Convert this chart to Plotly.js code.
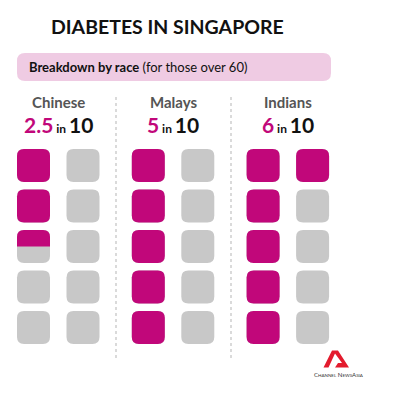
<!DOCTYPE html>
<html><head><meta charset="utf-8">
<script src="https://cdn.plot.ly/plotly-3.0.1.min.js"></script>
<style>html,body{margin:0;padding:0;background:#fff}#chart{width:395px;height:416px}</style>
</head><body><div id="chart"></div>
<script>
// ---- data ----
const races = ['Chinese', 'Malays', 'Indians'];
const ratePer10 = [2.5, 5, 6];
const rateLabels = ['2.5', '5', '6'];
const outOf = 10;
const chartTitle = 'DIABETES IN SINGAPORE';
const subtitleBold = 'Breakdown by race';
const subtitleRest = '(for those over 60)';

// ---- style / layout constants ----
const MAG = '#c1077a', GREY = '#c8c8c8', PINK = '#efcbe3';
const FONT = 'Lato, "Open Sans", sans-serif';
const gx0 = 17, gStep = 114.8, cStep = 49.5, gy0 = 149, rStep = 40.5, sz = 33, rad = 7;
const rowsPerCol = 5;

function roundPath(x0, y0, x1, y1, r, roundBottom) {
  let p = `M${x0},${y0 + r} Q${x0},${y0} ${x0 + r},${y0} L${x1 - r},${y0} Q${x1},${y0} ${x1},${y0 + r} `;
  if (roundBottom) {
    p += `L${x1},${y1 - r} Q${x1},${y1} ${x1 - r},${y1} L${x0 + r},${y1} Q${x0},${y1} ${x0},${y1 - r} Z`;
  } else {
    p += `L${x1},${y1} L${x0},${y1} Z`;
  }
  return p;
}

const shapes = [];
const annotations = [];
const cx = [], cy = [];

// banner
shapes.push({type: 'path', xref: 'x', yref: 'y', path: roundPath(17, 53, 331, 81, 8, true),
  fillcolor: PINK, line: {width: 0}, layer: 'below'});

races.forEach((race, g) => {
  const gx = gx0 + g * gStep;
  for (let k = 0; k < outOf; k++) {
    const col = Math.floor(k / rowsPerCol), row = k % rowsPerCol;
    const x0 = gx + col * cStep, y0 = gy0 + row * rStep;
    const x1 = x0 + sz, y1 = y0 + sz;
    cx.push(x0 + sz / 2); cy.push(y0 + sz / 2);
    const frac = Math.max(0, Math.min(1, ratePer10[g] - k));
    shapes.push({type: 'path', xref: 'x', yref: 'y', path: roundPath(x0, y0, x1, y1, rad, true),
      fillcolor: GREY, line: {width: 0}});
    if (frac > 0) {
      const yf = y0 + frac * sz;
      shapes.push({type: 'path', xref: 'x', yref: 'y',
        path: roundPath(x0, y0, x1, yf, rad, frac >= 1),
        fillcolor: MAG, line: {width: 0}});
    }
  }
  const center = gx + (cStep + sz) / 2;
  annotations.push({xref: 'x', yref: 'y', x: center, y: 102, text: '<b>' + race + '</b>',
    showarrow: false, xanchor: 'center', yanchor: 'middle',
    font: {family: FONT, size: 15, color: '#555555'}});
  annotations.push({xref: 'x', yref: 'y', x: center, y: 124, 
    text: `<b><span style="color:${MAG}">${rateLabels[g]}</span><span style="font-size:12px"> in </span>${outOf}</b>`,
    showarrow: false, xanchor: 'center', yanchor: 'middle',
    font: {family: FONT, size: 21, color: '#111111'}});
});

// dotted dividers
[116, 231].forEach(x => shapes.push({type: 'line', xref: 'x', yref: 'y', x0: x, x1: x, y0: 97, y1: 358,
  line: {color: '#b5b5b5', width: 1, dash: 'dot'}}));

// title & subtitle
annotations.push({xref: 'x', yref: 'y', x: 167, y: 26, text: '<b>' + chartTitle + '</b>', showarrow: false,
  xanchor: 'center', yanchor: 'middle', font: {family: FONT, size: 19.5, color: '#111111'}});
annotations.push({xref: 'x', yref: 'y', x: 27, y: 67, text: '<b>' + subtitleBold + '</b> ' + subtitleRest,
  showarrow: false, xanchor: 'left', yanchor: 'middle', font: {family: FONT, size: 13, color: '#111111'}});

// logo
shapes.push({type: 'path', xref: 'x', yref: 'y',
  path: 'M332,350.5 L338,350.5 L349,367.5 L335,367.5 L338,363 L342,363 L335,353.5 L328.5,367.5 L323.5,367.5 Z',
  fillcolor: '#e31b2d', line: {width: 0}});
annotations.push({xref: 'x', yref: 'y', x: 339, y: 374,
  text: 'C<span style="font-size:4.5px">HANNEL</span> N<span style="font-size:4.5px">EWS</span>A<span style="font-size:4.5px">SIA</span>',
  showarrow: false, xanchor: 'center', yanchor: 'middle', font: {family: FONT, size: 6, color: '#333333'}});

const trace = {x: cx, y: cy, mode: 'markers', type: 'scatter', hoverinfo: 'skip',
  marker: {size: 1, opacity: 0}, showlegend: false};

const layout = {
  width: 395, height: 416, margin: {l: 0, r: 0, t: 0, b: 0},
  paper_bgcolor: '#ffffff', plot_bgcolor: '#ffffff',
  xaxis: {range: [0, 395], visible: false, fixedrange: true},
  yaxis: {range: [416, 0], visible: false, fixedrange: true},
  shapes: shapes, annotations: annotations, showlegend: false
};
Plotly.newPlot('chart', [trace], layout, {displayModeBar: false, staticPlot: true});
</script>
</body></html>
